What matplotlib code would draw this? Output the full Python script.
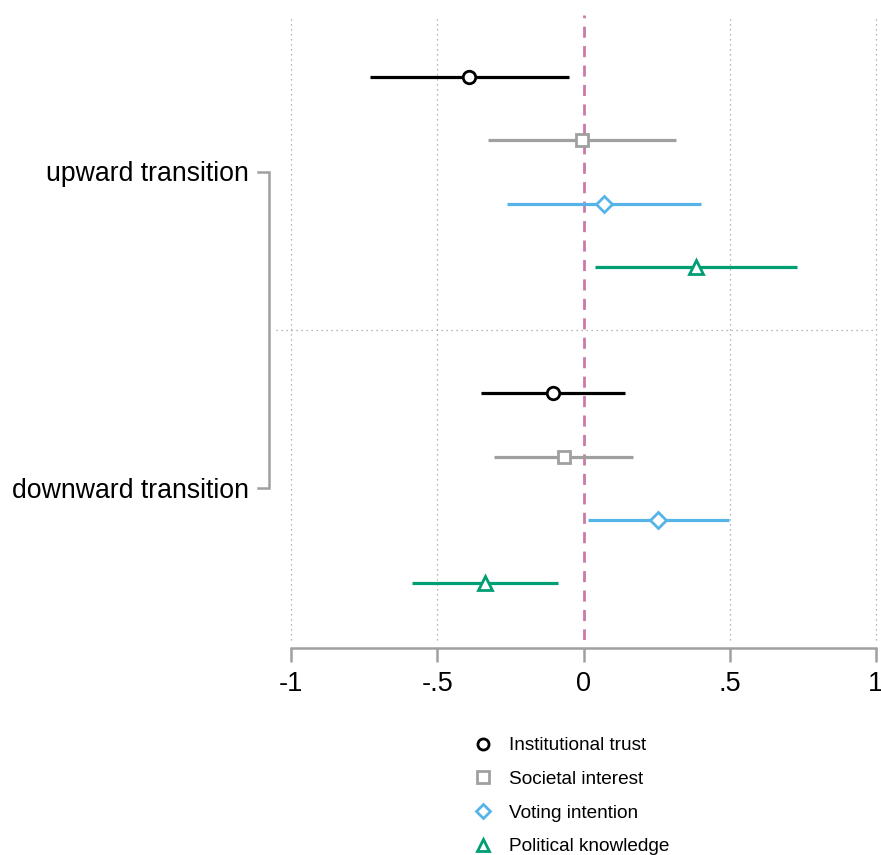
import matplotlib
matplotlib.use("Agg")
from matplotlib import pyplot as plt
from matplotlib.lines import Line2D
import matplotlib.transforms as mtransforms

plt.rcParams['font.family'] = ['Liberation Sans', 'DejaVu Sans']

# Outcomes and colours / markers
outcomes = ["Institutional trust", "Societal interest", "Voting intention", "Political knowledge"]
colors = ["#000000", "#a0a0a0", "#56b4e9", "#009e73"]
markers = ["o", "s", "D", "^"]
msizes = [9, 9, 8.5, 9.5]

groups = ["upward transition", "downward transition"]

# Estimates and 95% CIs (upward, then downward)
up_est = [-0.391, -0.005, 0.070, 0.385]
up_lo = [-0.730, -0.326, -0.262, 0.039]
up_hi = [-0.050, 0.316, 0.402, 0.730]

down_est = [-0.104, -0.067, 0.255, -0.337]
down_lo = [-0.350, -0.306, 0.015, -0.586]
down_hi = [0.142, 0.169, 0.497, -0.087]

xticks = [-1, -0.5, 0, 0.5, 1]
xticklabels = ["-1", "-.5", "0", ".5", "1"]

fig = plt.figure(figsize=(8.81, 8.55), dpi=100)
W, H = 881, 855
ax = fig.add_axes([291 / W, 1 - 640 / H, 585 / W, 625 / H])

# Row positions: 4 rows per group with a gap between
pos_up = [0, 1, 2, 3]
pos_down = [5, 6, 7, 8]

for est, lo, hi, pos in [(up_est, up_lo, up_hi, pos_up), (down_est, down_lo, down_hi, pos_down)]:
    for i in range(len(outcomes)):
        ax.plot([lo[i], hi[i]], [pos[i], pos[i]], color=colors[i], lw=2.3, solid_capstyle='butt', zorder=3)
        ax.plot(est[i], pos[i], marker=markers[i], ms=msizes[i], mfc='white', mec=colors[i], mew=2.0,
                linestyle='none', zorder=4)

# Gridlines
for xt in [-1, -0.5, 0.5, 1]:
    ax.axvline(xt, color='#a0a0a0', lw=0.9, linestyle=(0, (1, 3)), zorder=1, clip_on=False)
ax.axvline(0, color='#cc79a7', lw=2.0, linestyle=(0, (4, 3)), zorder=2)

# Separator between groups
trans_sep = mtransforms.blended_transform_factory(ax.transAxes, ax.transData)
ax.plot([-0.025, 1.0], [4, 4], transform=trans_sep, color='#a0a0a0', lw=0.9,
        linestyle=(0, (1, 3)), clip_on=False, zorder=1)

ax.set_xlim(-1, 1)
ax.set_ylim(8.9, -0.98)

# x axis styling
for s in ['top', 'right', 'left']:
    ax.spines[s].set_visible(False)
ax.spines['bottom'].set_position(('outward', 6))
ax.spines['bottom'].set_color('#a0a0a0')
ax.spines['bottom'].set_linewidth(1.8)
ax.set_xticks(xticks)
ax.set_xticklabels(xticklabels, fontsize=19.5)
ax.tick_params(axis='x', length=10, width=1.8, color='#a0a0a0', pad=6)
ax.set_yticks([])

# Group bracket on the left
bx = -22 / 585
tx = -33 / 585
ax.plot([tx, bx, bx, tx], [1.5, 1.5, 6.5, 6.5], transform=trans_sep, color='#a0a0a0',
        lw=1.8, clip_on=False, solid_joinstyle='miter')
for g, yc in zip(groups, [1.5, 6.5]):
    ax.text(-42 / 585, yc + 0.04, g, transform=trans_sep, ha='right', va='center', fontsize=19.2)

# Legend
handles = [Line2D([], [], marker=markers[i], color=colors[i], mfc='white', mec=colors[i], mew=2.0,
                  ms=msizes[i] - 1.0, linestyle='none') for i in range(len(outcomes))]
fig.legend(handles, outcomes, loc='upper left', bbox_to_anchor=(473 / W, 1 - 737 / H),
           frameon=False, fontsize=13.7, labelspacing=0.86, handlelength=1.0, handletextpad=0.87,
           borderpad=0, borderaxespad=0)

fig.savefig("out.png", dpi=100)
